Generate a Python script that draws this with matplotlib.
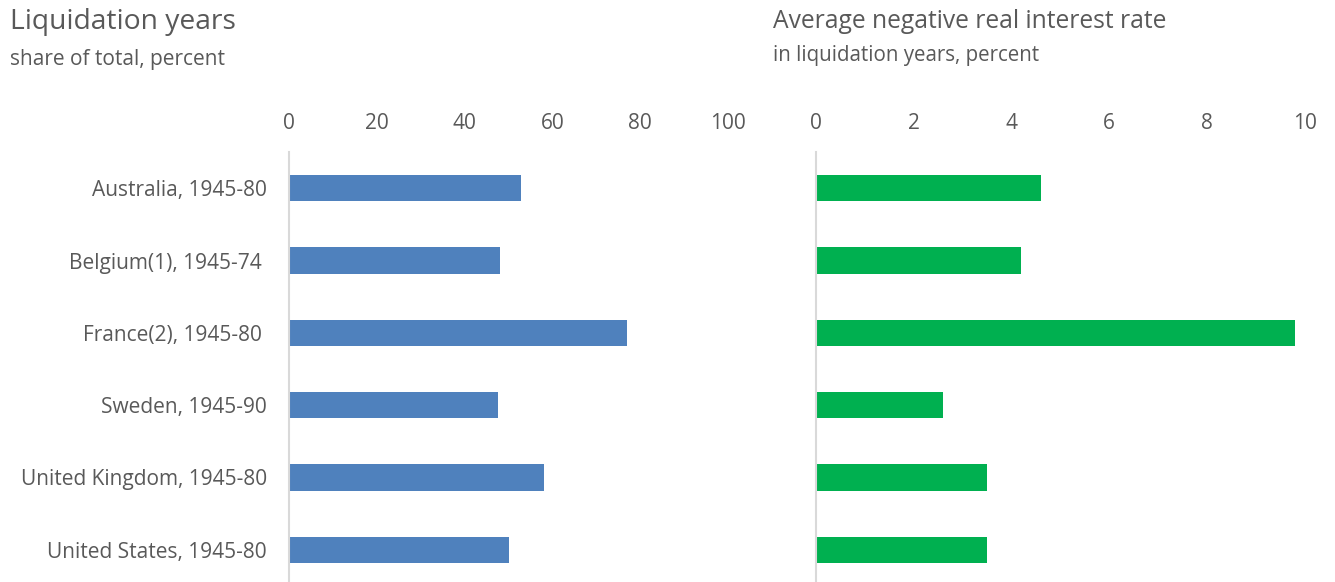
import matplotlib.pyplot as plt
import numpy as np

plt.rcParams['font.family'] = ['Open Sans', 'DejaVu Sans']

# data
countries = ['Australia, 1945-80', 'Belgium(1), 1945-74 ', 'France(2), 1945-80 ',
             'Sweden, 1945-90', 'United Kingdom, 1945-80', 'United States, 1945-80']
liquidation_share = [52.8, 48.1, 77.0, 47.7, 58.2, 50.2]
neg_real_rate = [4.6, 4.2, 9.8, 2.6, 3.5, 3.5]

TXT = '#595959'
AXC = '#d9d9d9'

fig = plt.figure(figsize=(13.35, 5.82), dpi=100)
ax1 = fig.add_axes([289/1335, 1 - 586/582, (728-289)/1335, (586-152)/582])
ax2 = fig.add_axes([815.7/1335, 1 - 586/582, (1304.7-815.7)/1335, (586-152)/582])

y = np.arange(len(countries))

for ax, vals, color, xmax, step in [(ax1, liquidation_share, '#4F81BD', 100, 20),
                                     (ax2, neg_real_rate, '#00B050', 10, 2)]:
    ax.barh(y, vals, height=0.36, color=color)
    ax.set_xlim(0, xmax)
    ax.set_ylim(len(countries) - 0.5, -0.5)
    ax.set_xticks(np.arange(0, xmax + 1, step))
    ax.xaxis.tick_top()
    ax.tick_params(axis='x', length=0, pad=13, labelsize=15, labelcolor=TXT)
    for s in ['top', 'right', 'bottom']:
        ax.spines[s].set_visible(False)
    ax.spines['left'].set_color(AXC)
    ax.spines['left'].set_linewidth(1.5)
    ax.patch.set_alpha(0)

ax1.set_yticks(y)
ax1.set_yticklabels(countries)
ax1.tick_params(axis='y', length=0, pad=16, labelsize=15, labelcolor=TXT)
ax2.set_yticks([])

fig.text(10/1335, 1 - 22/582, 'Liquidation years', fontsize=20.3, color=TXT, va='center')
fig.text(10/1335, 1 - 59/582, 'share of total, percent', fontsize=15, color=TXT, va='center')
fig.text(773/1335, 1 - 22/582, 'Average negative real interest rate', fontsize=17.7, color=TXT, va='center')
fig.text(773/1335, 1 - 55/582, 'in liquidation years, percent', fontsize=14.8, color=TXT, va='center')

fig.savefig('out.png', dpi=100)
